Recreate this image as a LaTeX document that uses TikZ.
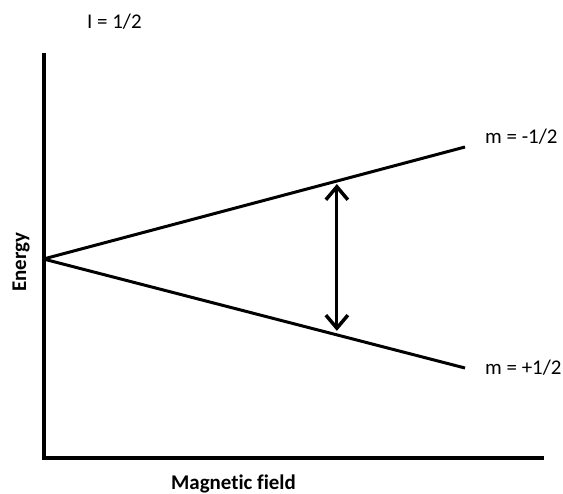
\documentclass[tikz,border=0pt]{standalone}
\usepackage{fontspec}
\setmainfont{Carlito}[Ligatures=NoCommon]
\usetikzlibrary{arrows.meta,calc}

\tikzset{
  axe/.style={line width=4bp, line cap=rect},
  niveau/.style={line width=3bp},
  etiquette/.style={font=\fontsize{21}{25}\selectfont, inner sep=0pt},
}

\begin{document}
\begin{tikzpicture}[x=1bp,y=-1bp]
        \useasboundingbox (0,0) rectangle (563,494);

        % Les axes
        \coordinate (haut) at (43.5,55);
        \coordinate (coin) at (43.5,458);
        \coordinate (droite) at (542,458);
        \draw[axe] (haut) -- (coin) -- (droite);

        % Les deux niveaux d'energie
        \coordinate (o) at (43.5,259);
        \coordinate (moins) at (465,147);
        \coordinate (plus) at (465,368);
        \draw[niveau] (o) -- (moins);
        \draw[niveau] (o) -- (plus);

        % La transition
        \coordinate (a) at ($(o)!0.696!(moins)$);
        \coordinate (b) at ($(o)!0.696!(plus)$);
        \draw[niveau, {Straight Barb[length=13bp,width=22bp,line width=3.5bp]}-{Straight Barb[length=13bp,width=22bp,line width=3.5bp]}]
          ($(a)+(0,3)$) -- ($(b)+(0,-4)$);

        % Les textes
        \node[etiquette, anchor=base west] (spin) at (87,29) {I = 1/2};
        \node[etiquette, anchor=base west] (lm) at (485,144) {m = -1/2};
        \node[etiquette, anchor=base west] (lp) at (485,374) {m = +1/2};
        \node[etiquette, font=\fontsize{21}{25}\selectfont\bfseries, anchor=base] (champ) at (233.5,489) {Magnetic field};
        \node[etiquette, font=\fontsize{21}{25}\selectfont\bfseries, rotate=90, anchor=base] (energie) at (26,262) {Energy};

\end{tikzpicture}
\end{document}
